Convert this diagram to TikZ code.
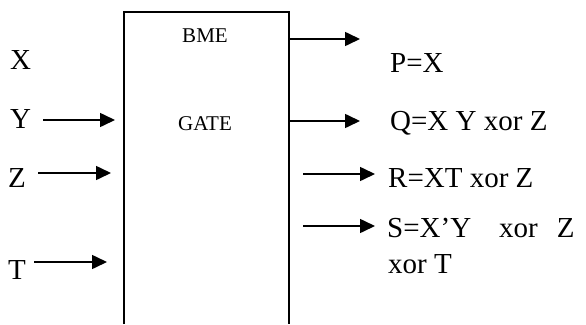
\documentclass[tikz,border=0pt]{standalone}
\usepackage{fontspec}
\setmainfont{Liberation Serif}
\usetikzlibrary{arrows.meta}

\begin{document}
\begin{tikzpicture}[x=1pt,y=-1pt,
  lbl/.style={anchor=base west,inner sep=0pt,font=\fontsize{29}{34}\selectfont},
  tag/.style={anchor=base,inner sep=0pt,font=\fontsize{21}{25}\selectfont},
  sig/.style={line width=1.6pt,-{Triangle[length=15pt,width=14pt]}}]
\useasboundingbox (0,0) rectangle (586,324);

% the gate, open at the bottom
\draw[line width=2.6pt] (124,324) -- (124,12) -- (289,12) -- (289,324);
\node (bme) at (205,42) [tag] {BME};
\node (gate) at (205,130) [tag] {GATE};

% inputs
\node (inX) at (10,69) [lbl] {X};
\node (inY) at (10,128) [lbl] {Y};
\node (inZ) at (8,187) [lbl] {Z};
\node (inT) at (8,279) [lbl] {T};

\coordinate (y0) at (43,120);  \coordinate (y1) at (115,120);
\coordinate (z0) at (38,173);  \coordinate (z1) at (111,173);
\coordinate (t0) at (34,262);  \coordinate (t1) at (107,262);
\draw[sig] (y0) -- (y1);
\draw[sig] (z0) -- (z1);
\draw[sig] (t0) -- (t1);

% outputs
\node (outP) at (390,72) [lbl] {P=X};
\node (outQ) at (390,130) [lbl] {Q=X Y xor Z};
\node (outR) at (388,187) [lbl] {R=XT xor Z};
\node (outS) at (387,237) [lbl] {S=X’Y\hspace{28pt}xor\hspace{19pt}Z};
\node (outS2) at (388,273) [lbl] {xor T};

\coordinate (p0) at (289,39);  \coordinate (p1) at (360,39);
\coordinate (q0) at (289,121); \coordinate (q1) at (360,121);
\coordinate (r0) at (303,174); \coordinate (r1) at (375,174);
\coordinate (s0) at (303,226); \coordinate (s1) at (375,226);
\draw[sig] (p0) -- (p1);
\draw[sig] (q0) -- (q1);
\draw[sig] (r0) -- (r1);
\draw[sig] (s0) -- (s1);
\end{tikzpicture}
\end{document}
